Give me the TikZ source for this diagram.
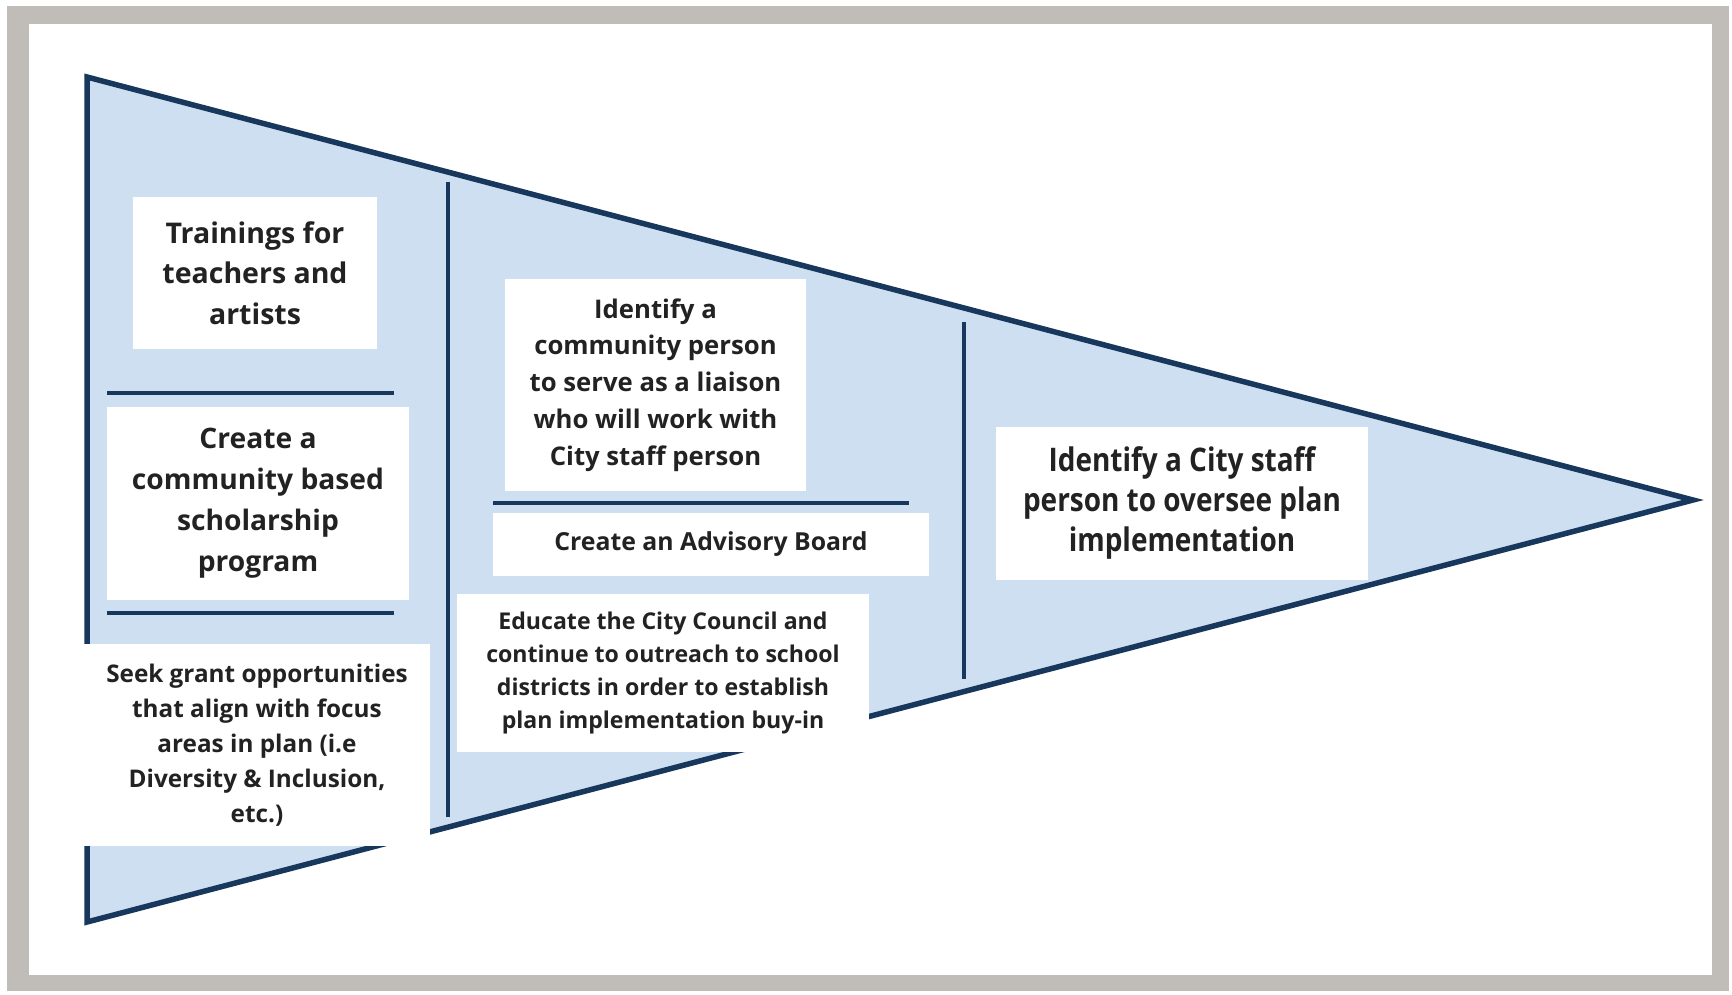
\documentclass[tikz,border=0pt]{standalone}
\usepackage{fontspec}
\setmainfont{Open Sans}
\newfontfamily\condfont[FakeStretch=0.86]{Open Sans}
\definecolor{framegray}{RGB}{192,189,184}
\definecolor{paleblue}{RGB}{205,223,241}
\definecolor{navy}{RGB}{24,55,92}
\definecolor{ink}{RGB}{34,34,34}
\tikzset{
  box/.style={fill=white, draw=none, inner sep=0pt, align=center, text=ink, font=\bfseries},
  rule/.style={draw=navy, line width=4.6pt},
  edge/.style={draw=navy, line width=5.5pt, line join=miter}
}
\begin{document}
\begin{tikzpicture}[x=1pt,y=-1pt]
\useasboundingbox (0,0) rectangle (1732,994);
% frame
\fill[white] (0,0) rectangle (1732,994);
\fill[framegray] (7,6) rectangle (1729,991);
\fill[white] (29,24) rectangle (1712,975);

% pennant
\coordinate (tl) at (87,77);
\coordinate (bl) at (87,922);
\coordinate (tip) at (1693,500);
\filldraw[edge, fill=paleblue] (tl) -- (tip) -- (bl) -- cycle;

% column dividers
\coordinate (d1a) at (448,182);
\coordinate (d1b) at (448,817);
\coordinate (d2a) at (964,322);
\coordinate (d2b) at (964,679);
\draw[rule] (d1a) -- (d1b);
\draw[rule] (d2a) -- (d2b);

% separators between items
\coordinate (s1a) at (107,393);
\coordinate (s1b) at (394,393);
\coordinate (s2a) at (107,613);
\coordinate (s2b) at (394,613);
\coordinate (s3a) at (493,503);
\coordinate (s3b) at (909,503);
\draw[rule] (s1a) -- (s1b);
\draw[rule] (s2a) -- (s2b);
\draw[rule] (s3a) -- (s3b);

% first column
\node[box, minimum width=244pt, minimum height=152pt,
      font=\bfseries\fontsize{28.5}{40.5}\selectfont] (train) at (255,273)
  {Trainings for\\teachers and\\artists};
\node[box, minimum width=302pt, minimum height=193pt,
      font=\bfseries\fontsize{28.2}{41}\selectfont] (scholar) at (258,503)
  {Create a\\community based\\scholarship\\program};
\node[box, minimum width=346pt, minimum height=202pt,
      font=\bfseries\fontsize{24.3}{35}\selectfont] (grant) at (257,745)
  {Seek grant opportunities\\that align with focus\\areas in plan (i.e\\Diversity \& Inclusion,\\etc.)};

% second column
\node[box, minimum width=301pt, minimum height=212pt,
      font=\bfseries\fontsize{25.7}{36.8}\selectfont] (liaison) at (655.5,385)
  {Identify a\\community person\\to serve as a liaison\\who will work with\\City staff person};
\node[box, minimum width=436pt, minimum height=63pt,
      font=\bfseries\fontsize{24.8}{33}\selectfont] (advisory) at (711,544)
  {Create an Advisory Board};
\node[box, minimum width=412pt, minimum height=158pt,
      font=\bfseries\fontsize{23.1}{33}\selectfont] (educate) at (663,672.5)
  {Educate the City Council and\\continue to outreach to school\\districts in order to establish\\plan implementation buy-in};

% third column
\node[box, minimum width=372pt, minimum height=153pt,
      font=\condfont\bfseries\fontsize{32.5}{40}\selectfont] (staff) at (1182,503)
  {Identify a City staff\\person to oversee plan\\implementation};
\end{tikzpicture}
\end{document}
